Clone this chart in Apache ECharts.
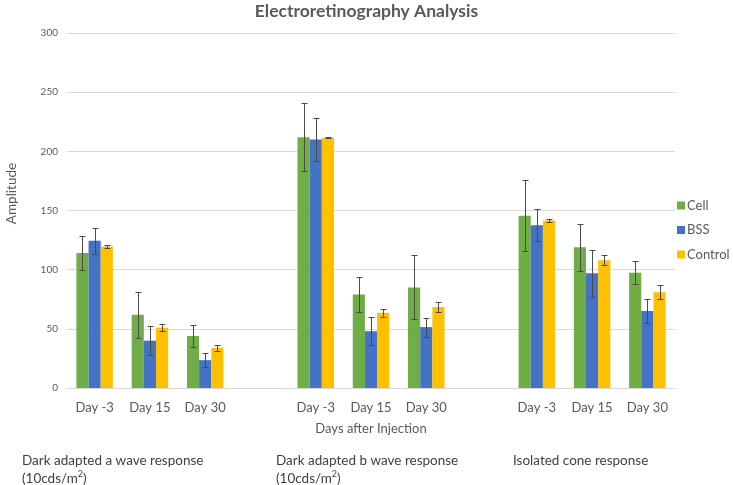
<!DOCTYPE html>
<html>
<head>
<meta charset="utf-8">
<script src="https://cdn.jsdelivr.net/npm/echarts@6/dist/echarts.min.js"></script>
<style>html,body{margin:0;padding:0;background:#fff}#c{width:733px;height:485px}</style>
</head>
<body>
<div id="c"></div>
<script>
const categories = ['Day -3','Day 15','Day 30','','Day -3','Day 15','Day 30','','Day -3','Day 15','Day 30'];
const seriesNames = ['Cell','BSS','Control'];
const cellValues = [114, 62, 44, '-', 212, 79, 85, '-', 145.5, 119, 97.5];
const cellErrors = [14.5, 19.5, 9.5, '-', 29, 14.5, 27, '-', 30, 20, 10];
const bssValues = [124.5, 40, 23.5, '-', 210, 48, 51.5, '-', 137.5, 97, 65];
const bssErrors = [11, 12.5, 6, '-', 18, 12, 8, '-', 13.5, 20, 10];
const controlValues = [119.5, 51, 34, '-', 211.5, 63.5, 68.5, '-', 141.5, 108, 81];
const controlErrors = [1.5, 3, 2.5, '-', 0.5, 3.5, 4, '-', 1.5, 4, 6];
const yTicks = [0, 50, 100, 150, 200, 250, 300];
const groupLabels = ['Dark adapted a wave response', 'Dark adapted b wave response', 'Isolated cone response'];

const colors = ['#70AD47', '#4472C4', '#FFC000'];
const FONT = 'Lato, "Open Sans", sans-serif';
const GAP = 0.34;

function errData(vals, errs) {
  const out = [];
  vals.forEach((v, i) => { if (v !== '-') out.push([i, v, errs[i]]); });
  return out;
}
function errSeries(k, vals, errs) {
  return {
    type: 'custom',
    name: seriesNames[k] + ' err',
    silent: true,
    z: 10,
    data: errData(vals, errs),
    renderItem: function (params, api) {
      const idx = api.value(0), v = api.value(1), e = api.value(2);
      const band = api.size([1, 0])[0];
      const bw = band * (1 - GAP) / 3;
      const x = Math.round(api.coord([idx, v])[0] + (k - 1) * bw) + 0.5;
      const yt = Math.round(api.coord([idx, v + e])[1]) + 0.5;
      const yb = Math.round(api.coord([idx, v - e])[1]) + 0.5;
      const cap = 3;
      const st = { stroke: '#4a4a4a', lineWidth: 1 };
      return { type: 'group', children: [
        { type: 'line', shape: { x1: x, y1: yt, x2: x, y2: yb }, style: st },
        { type: 'line', shape: { x1: x - cap, y1: yt, x2: x + cap, y2: yt }, style: st },
        { type: 'line', shape: { x1: x - cap, y1: yb, x2: x + cap, y2: yb }, style: st }
      ]};
    }
  };
}

const chart = echarts.init(document.getElementById('c'));
const labelStyle = { fontFamily: FONT, fontSize: 13.5, fill: '#404040',
  rich: { sup: { fontFamily: FONT, fontSize: 9, verticalAlign: 'top', padding: [0,0,6,0], fill: '#404040', color: '#404040' } } };
chart.setOption({
  animation: false,
  color: colors,
  title: {
    text: 'Electroretinography Analysis',
    left: 'center', top: -3,
    textStyle: { fontFamily: FONT, fontSize: 17.5, fontWeight: 'bold', color: '#595959' }
  },
  legend: {
    data: seriesNames,
    orient: 'vertical',
    left: 672, top: 194,
    icon: 'rect', itemWidth: 8, itemHeight: 8, itemGap: 11.5,
    textStyle: { fontFamily: FONT, fontSize: 13, color: '#595959', padding: [0, 0, 0, -3] }
  },
  grid: { left: 67, right: 58, top: 33, bottom: 97, outerBoundsMode: 'none', containLabel: false },
  xAxis: {
    type: 'category',
    data: categories,
    name: 'Days after Injection',
    nameLocation: 'middle',
    nameGap: 34,
    nameTextStyle: { fontFamily: FONT, fontSize: 13, color: '#595959' },
    axisLine: { lineStyle: { color: '#d9d9d9' } },
    axisTick: { show: false },
    axisLabel: { interval: 0, margin: 13, fontFamily: FONT, fontSize: 13, color: '#595959' }
  },
  yAxis: {
    type: 'value',
    min: yTicks[0], max: yTicks[yTicks.length - 1], interval: yTicks[1] - yTicks[0],
    name: 'Amplitude',
    nameLocation: 'middle',
    nameGap: 48,
    nameTextStyle: { fontFamily: FONT, fontSize: 13.5, color: '#595959', padding: [0, 0, 0, 34] },
    axisLine: { show: false },
    axisTick: { show: false },
    splitLine: { lineStyle: { color: '#d9d9d9' } },
    axisLabel: { margin: 9, fontFamily: FONT, fontSize: 10, color: '#595959' }
  },
  series: [
    { type: 'bar', name: seriesNames[0], data: cellValues, barGap: '0%', barCategoryGap: (GAP * 100) + '%' },
    { type: 'bar', name: seriesNames[1], data: bssValues },
    { type: 'bar', name: seriesNames[2], data: controlValues },
    errSeries(0, cellValues, cellErrors),
    errSeries(1, bssValues, bssErrors),
    errSeries(2, controlValues, controlErrors)
  ],
  graphic: [
    { type: 'text', left: 22, top: 452, style: Object.assign({ text: groupLabels[0] + '\n(10cds/m{sup|2})', lineHeight: 18 }, labelStyle) },
    { type: 'text', left: 276, top: 452, style: Object.assign({ text: groupLabels[1] + '\n(10cds/m{sup|2})', lineHeight: 18 }, labelStyle) },
    { type: 'text', left: 513, top: 452, style: Object.assign({ text: groupLabels[2], lineHeight: 18 }, labelStyle) }
  ]
});
</script>
</body>
</html>
